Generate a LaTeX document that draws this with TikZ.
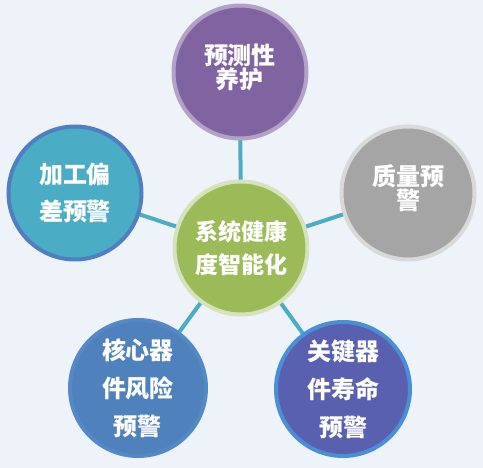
\documentclass[tikz,border=0pt]{standalone}
\usepackage{fontspec}
\newfontfamily\cjk{Noto Sans CJK SC}
\definecolor{bg}{HTML}{EEF3FA}
\definecolor{link}{HTML}{4BACC6}
\definecolor{cgreen}{HTML}{9BBB59}
\definecolor{bgreen}{HTML}{D5E3BC}
\definecolor{cpurple}{HTML}{8064A2}
\definecolor{bpurple}{HTML}{B3A2C7}
\definecolor{cgray}{HTML}{A5A5A5}
\definecolor{bgray}{HTML}{D9D9D9}
\definecolor{cteal}{HTML}{4BACC6}
\definecolor{bteal}{HTML}{4F7FC0}
\definecolor{cblue}{HTML}{4F81BD}
\definecolor{bblue}{HTML}{5489C6}
\definecolor{cindigo}{HTML}{5A60B0}
\definecolor{bindigo}{HTML}{4A8ED8}
\tikzset{
  ball/.style={circle, line width=4pt, minimum size=133pt, inner sep=0pt},
  txt/.style={text=white, align=center, font=\cjk\bfseries\fontsize{24}{38}\selectfont, inner sep=0pt},
  tight/.style={font=\cjk\bfseries\fontsize{24}{24.5}\selectfont},
  conn/.style={draw=link, line width=4pt}
}
\begin{document}
\begin{tikzpicture}[x=1pt,y=-1pt]
\useasboundingbox[fill=bg] (0,0) rectangle (483,468);
\coordinate (cc) at (241,248);
\coordinate (tc) at (240,72);
\coordinate (rc) at (408,193);
\coordinate (lc) at (75,193);
\coordinate (blc) at (138,388);
\coordinate (brc) at (343,389);
\draw[conn] (cc) -- (tc);
\draw[conn] (cc) -- (rc);
\draw[conn] (cc) -- (lc);
\draw[conn] (cc) -- (blc);
\draw[conn] (cc) -- (brc);
\node[ball, fill=cgreen, draw=bgreen] (c) at (cc) {};
\node[ball, fill=cpurple, draw=bpurple] (t) at (tc) {};
\node[ball, fill=cgray, draw=bgray] (r) at (rc) {};
\node[ball, fill=cteal, draw=bteal] (l) at (lc) {};
\node[ball, fill=cblue, draw=bblue, minimum size=136pt] (bl) at (blc) {};
\node[ball, fill=cindigo, draw=bindigo, minimum size=134pt] (br) at (brc) {};
\node[txt, font=\cjk\bfseries\fontsize{23}{33}\selectfont] (ct) at (c.center) {系统健康\\度智能化};
\node[txt, tight] (tt) at ([yshift=4.5pt]t.center) {预测性\\养护};
\node[txt, tight, font=\cjk\bfseries\fontsize{24}{23}\selectfont] (rt) at ([yshift=4.5pt]r.center) {质量预\\警};
\node[txt, font=\cjk\bfseries\fontsize{24}{37}\selectfont] (lt) at (l.center) {加工偏\\差预警};
\node[txt] (blt) at (bl.center) {核心器\\件风险\\预警};
\node[txt] (brt) at (br.center) {关键器\\件寿命\\预警};
\end{tikzpicture}
\end{document}
